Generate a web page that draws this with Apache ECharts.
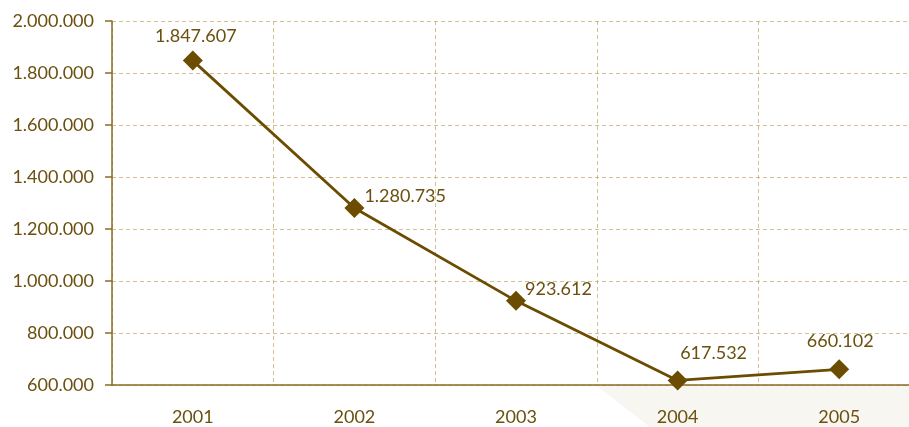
<!DOCTYPE html>
<html>
<head>
<meta charset="utf-8">
<script src="https://cdn.jsdelivr.net/npm/echarts@6/dist/echarts.min.js"></script>
<style>
  html, body { margin: 0; padding: 0; background: #fff; }
  #chart { width: 909px; height: 427px; }
</style>
</head>
<body>
<div id="chart"></div>
<script>
// data
var years = ['2001', '2002', '2003', '2004', '2005'];
var values = [1847607, 1280735, 923612, 617532, 660102];
var yMin = 600000, yMax = 2000000, yStep = 200000;

// numbers with dot as thousands separator
function fmt(v) {
    return String(v).replace(/\B(?=(\d{3})+(?!\d))/g, '.');
}

var textColor = '#6b500f';
var lineColor = '#6b4c00';
var gridColor = '#c6a96c';

// per-point label placement (style only)
var labelPlace = [
    { position: 'top', offset: [3, 0] },
    { position: 'right', offset: [-5, -12] },
    { position: 'right', offset: [-6, -12] },
    { position: 'top', offset: [36, -3] },
    { position: 'top', offset: [1, -4] }
];

var seriesData = values.map(function (v, i) {
    return { value: v, label: labelPlace[i] };
});

var myChart = echarts.init(document.getElementById('chart'));
var option = {
    backgroundColor: '#fff',
    animation: false,
    textStyle: { fontFamily: 'Lato, "DejaVu Sans", sans-serif' },
    graphic: [{
        type: 'polygon',
        z: -1,
        shape: { points: [[597, 386], [909, 386], [909, 427], [650, 427]] },
        style: { fill: '#f7f6f1' }
    }],
    grid: { left: 112, top: 21, width: 808, height: 364, outerBoundsMode: 'none', containLabel: false },
    xAxis: {
        type: 'category',
        data: years,
        boundaryGap: true,
        axisLine: { lineStyle: { color: '#8a6b26', width: 1.5 } },
        axisTick: { show: false },
        axisLabel: { color: textColor, fontSize: 18, margin: 23 },
        splitLine: {
            show: true,
            lineStyle: { color: gridColor, type: [4, 3], width: 1, opacity: 0.75 }
        }
    },
    yAxis: {
        type: 'value',
        min: yMin,
        max: yMax,
        interval: yStep,
        axisLine: { show: true, lineStyle: { color: '#8a6b26', width: 1.5 } },
        axisTick: { show: true, length: 7, lineStyle: { color: '#8a6b26', width: 1.5 } },
        axisLabel: { color: textColor, fontSize: 18, margin: 18, formatter: fmt },
        splitLine: {
            show: true,
            lineStyle: { color: gridColor, type: [4, 3], width: 1, opacity: 0.75 }
        }
    },
    series: [{
        type: 'line',
        data: seriesData,
        symbol: 'diamond',
        symbolSize: 20,
        itemStyle: { color: lineColor },
        lineStyle: { color: lineColor, width: 2.8 },
        label: {
            show: true,
            color: textColor,
            fontSize: 18,
            formatter: function (p) { return fmt(p.value); }
        }
    }]
};
myChart.setOption(option);
</script>
</body>
</html>
